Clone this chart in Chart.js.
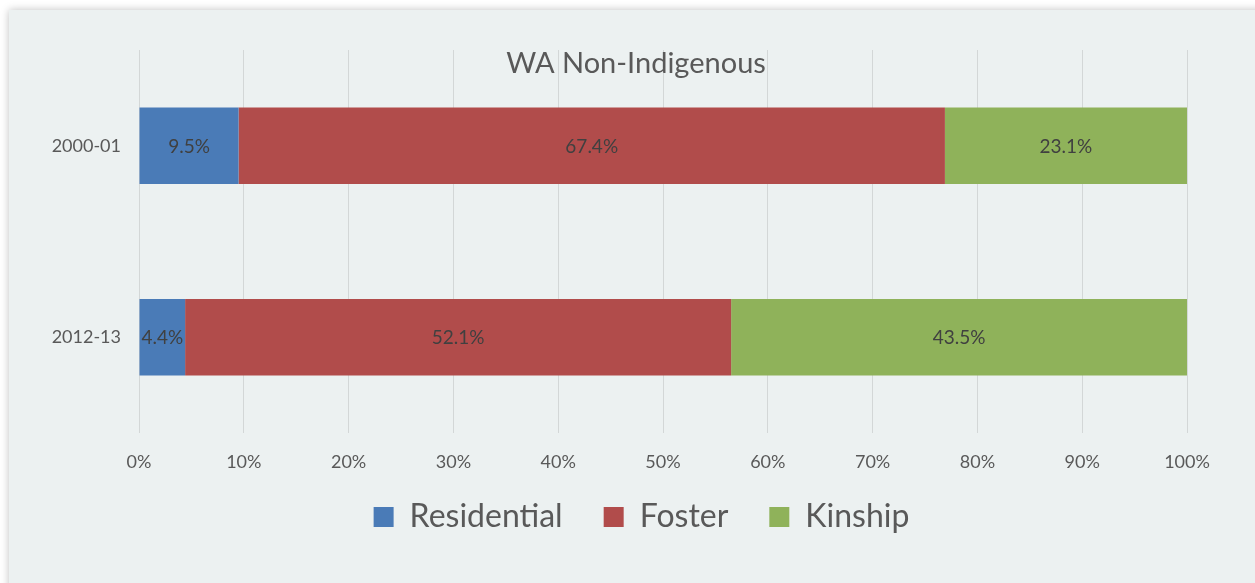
<!DOCTYPE html>
<html>
<head>
<meta charset="utf-8">
<script src="https://cdn.jsdelivr.net/npm/chart.js@4"></script>
<style>
  html, body { margin: 0; padding: 0; background: #ffffff; overflow: hidden; }
  #panel {
    position: absolute; left: 9px; top: 10px; width: 1260px; height: 590px;
    background: #ecf1f1; box-shadow: 0 0 8px rgba(0,0,0,0.25);
  }
  #chart { position: absolute; left: 0; top: 0; }
</style>
</head>
<body>
<div id="panel"></div>
<canvas id="chart" width="1255" height="583"></canvas>
<script>
// data (percent of children in care)
const categories = ['2000-01', '2012-13'];
const residential = [9.5, 4.4];
const foster = [67.4, 52.1];
const kinship = [23.1, 43.5];
const xTicks = [0, 10, 20, 30, 40, 50, 60, 70, 80, 90, 100];

const textColor = '#595959';
const fontFamily = 'Lato, "Liberation Sans", sans-serif';

// title sits inside the plot, over the grid lines
const titlePlugin = {
    id: 'insideTitle',
    afterDatasetsDraw(chart) {
        const ctx = chart.ctx;
        ctx.save();
        ctx.fillStyle = textColor;
        ctx.font = '29px ' + fontFamily;
        ctx.textAlign = 'center';
        ctx.textBaseline = 'middle';
        ctx.fillText('WA Non-Indigenous', 636, 64);
        ctx.restore();
    }
};

// legend is centred on the whole panel, a bit closer to the axis
const legendShift = {
    id: 'legendShift',
    afterLayout(chart) {
        const lg = chart.legend;
        lg.left += 48; lg.right += 48;
        lg.top -= 19; lg.bottom -= 19;
    }
};

// value labels in the middle of each segment
const valueLabels = {
    id: 'valueLabels',
    afterDatasetsDraw(chart) {
        const ctx = chart.ctx;
        ctx.save();
        ctx.fillStyle = '#404040';
        ctx.font = '19px ' + fontFamily;
        ctx.textAlign = 'center';
        ctx.textBaseline = 'middle';
        chart.data.datasets.forEach((ds, i) => {
            chart.getDatasetMeta(i).data.forEach((bar, j) => {
                const p = bar.getProps(['x', 'y', 'base'], true);
                ctx.fillText(ds.data[j].toFixed(1) + '%', (p.x + p.base) / 2, p.y + 1);
            });
        });
        ctx.restore();
    }
};

new Chart(document.getElementById('chart').getContext('2d'), {
    type: 'bar',
    data: {
        labels: categories,
        datasets: [
            { label: 'Residential', data: residential, backgroundColor: '#4a7bb7' },
            { label: 'Foster', data: foster, backgroundColor: '#b14c4b' },
            { label: 'Kinship', data: kinship, backgroundColor: '#8fb25a' }
        ]
    },
    options: {
        indexAxis: 'y',
        responsive: false,
        animation: false,
        categoryPercentage: 0.4,
        barPercentage: 1,
        layout: { padding: { left: 0, right: 68, top: 50, bottom: 21 } },
        scales: {
            x: {
                stacked: true,
                min: 0,
                max: 100,
                afterBuildTicks(scale) {
                    scale.ticks = xTicks.map(v => ({ value: v }));
                },
                afterFit(scale) { scale.height = 46; },
                ticks: {
                    color: textColor,
                    font: { family: fontFamily, size: 18 },
                    padding: 18,
                    callback: v => v + '%'
                },
                grid: { color: '#d3d7d7', lineWidth: 1, drawTicks: false },
                border: { display: false }
            },
            y: {
                stacked: true,
                afterFit(scale) { scale.width = 139; },
                ticks: {
                    color: textColor,
                    font: { family: fontFamily, size: 18 },
                    padding: 18
                },
                grid: { display: false, drawTicks: false },
                border: { display: false }
            }
        },
        plugins: {
            legend: {
                position: 'bottom',
                labels: {
                    color: textColor,
                    font: { family: fontFamily, size: 32 },
                    boxWidth: 20,
                    boxHeight: 20,
                    padding: 41
                }
            },
            tooltip: { enabled: false }
        }
    },
    plugins: [titlePlugin, legendShift, valueLabels]
});
</script>
</body>
</html>
